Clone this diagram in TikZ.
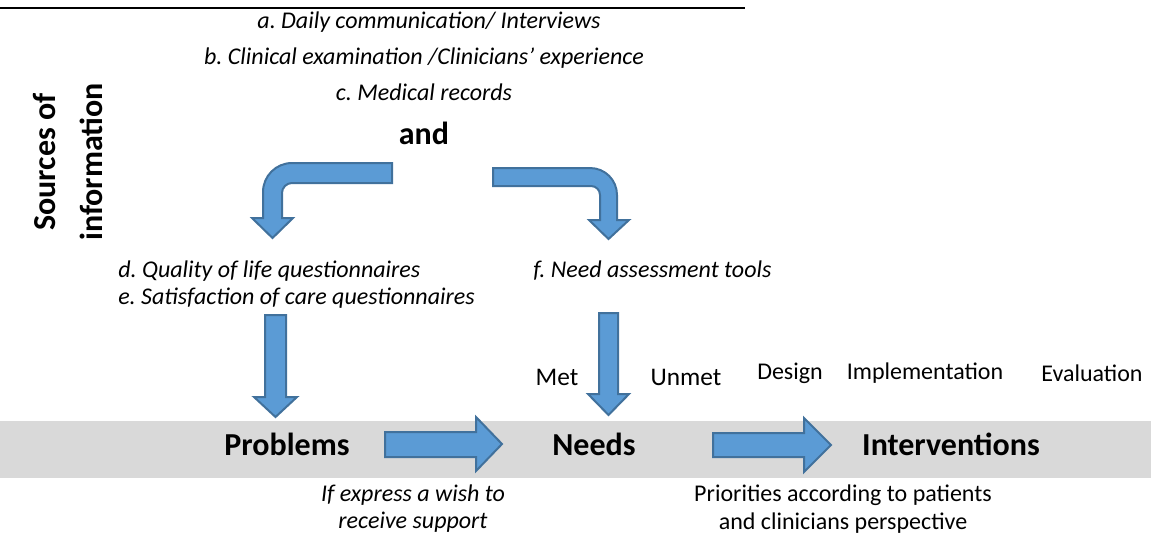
\documentclass[tikz,border=0pt]{standalone}
\usepackage{fontspec}
\setmainfont{Carlito}
\frenchspacing
\begin{document}
\begin{tikzpicture}[x=0.75pt,y=-0.75pt,
  blockarrow/.style={fill=arrowfill,draw=arrowline,line width=1.5pt,line join=miter},
  lbl/.style={inner sep=0pt,font=\fontsize{18}{21}\selectfont},
  ilbl/.style={inner sep=0pt,font=\fontsize{18}{21}\selectfont\itshape},
  blbl/.style={inner sep=0pt,font=\fontsize{24}{29}\selectfont\bfseries}]
\definecolor{arrowfill}{HTML}{5B9BD5}
\definecolor{arrowline}{HTML}{41719C}
\definecolor{band}{HTML}{D9D9D9}
\useasboundingbox (0,0) rectangle (1151,537);

% top rule
\draw[line width=1.5pt] (0,8) -- (745,8);

% grey band of the main chain
\fill[band] (0,421) rectangle (1151,478);

% sources of information
\node[ilbl] (srca) at (429,22) {a. Daily communication/ Interviews};
\node[ilbl] (srcb) at (424,58) {b. Clinical examination /Clinicians’ experience};
\node[ilbl] (srcc) at (424,92) {c. Medical records};
\node[blbl] (and) at (424,133) {and};
\node[blbl,rotate=90,align=center,font=\fontsize{24}{35}\selectfont\bfseries] (side) at (68,162) {Sources of\\information};

\node[ilbl,anchor=west,align=left,font=\fontsize{18}{20.25}\selectfont\itshape] (quest) at (118,285)
  {d. Quality of life questionnaires\\e. Satisfaction of care questionnaires};
\node[ilbl,anchor=west] (tools) at (533,271) {f. Need assessment tools};

% main chain
\node[blbl] (problems) at (287,444) {Problems};
\node[blbl] (needs) at (594,444) {Needs};
\node[blbl] (interv) at (951,444) {Interventions};

\node[lbl,font=\fontsize{19}{22}\selectfont] (met) at (557,377) {Met};
\node[lbl,font=\fontsize{19}{22}\selectfont] (unmet) at (686,377) {Unmet};
\node[lbl] (design) at (790,373) {Design};
\node[lbl] (impl) at (925,373) {Implementation};
\node[lbl] (eval) at (1092,373) {Evaluation};

\node[ilbl,align=center,font=\fontsize{18}{20.25}\selectfont\itshape] (wish) at (413,509)
  {If express a wish to\\receive support};
\node[lbl,align=center,font=\fontsize{18}{21}\selectfont] (prio) at (843,509)
  {Priorities according to patients\\and clinicians perspective};

% bent arrow towards the questionnaires
\draw[blockarrow] (392,163) -- (292,163) .. controls (276,163) and (263,176) .. (263,192)
  -- (263,218) -- (252,218) -- (272.5,238) -- (293,218) -- (282,218) -- (282,193)
  .. controls (282,187.5) and (286.5,183) .. (292,183) -- (392,183) -- cycle;

% bent arrow towards the assessment tools
\draw[blockarrow] (493,168) -- (590,168) .. controls (605,168) and (617,180) .. (617,195)
  -- (617,220) -- (629,220) -- (608.5,239) -- (589,220) -- (600,220) -- (600,195)
  .. controls (600,190) and (596,186) .. (591,186) -- (493,186) -- cycle;

% questionnaires down to problems
\draw[blockarrow] (265,315) -- (286,315) -- (286,397) -- (297,397) -- (275.5,417)
  -- (254,397) -- (265,397) -- cycle;

% assessment tools down to needs
\draw[blockarrow] (599,313) -- (618,313) -- (618,394) -- (629,394) -- (608.5,415)
  -- (588,394) -- (599,394) -- cycle;

% problems to needs
\draw[blockarrow] (385,432) -- (476,432) -- (476,417) -- (502,444) -- (476,471)
  -- (476,457) -- (385,457) -- cycle;

% needs to interventions
\draw[blockarrow] (713,433) -- (804,433) -- (804,418) -- (831,445) -- (804,472)
  -- (804,457) -- (713,457) -- cycle;
\end{tikzpicture}
\end{document}
